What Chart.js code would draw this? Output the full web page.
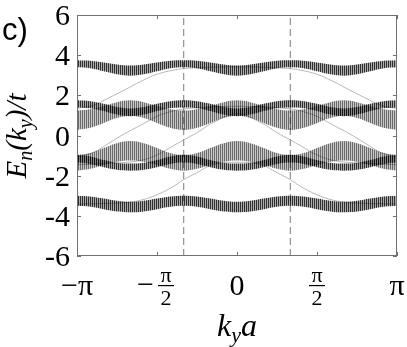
<!DOCTYPE html>
<html>
<head>
<meta charset="utf-8">
<script src="https://cdn.jsdelivr.net/npm/chart.js@4.4.1/dist/chart.umd.min.js"></script>
<style>
  body { margin: 0; background: #fff; }
  canvas { display: block; }
</style>
</head>
<body>
<canvas id="chart" width="407" height="347"></canvas>
<script>
// k_y a in units of pi, sampled every pi/12
const KY = [-1, -0.917, -0.833, -0.75, -0.667, -0.583, -0.5, -0.417, -0.333, -0.25, -0.167, -0.083, 0,
            0.083, 0.167, 0.25, 0.333, 0.417, 0.5, 0.583, 0.667, 0.75, 0.833, 0.917, 1];

// band edges E/t
const topUpper = [3.75, 3.72, 3.63, 3.53, 3.48, 3.53, 3.63, 3.72, 3.75, 3.72, 3.63, 3.53, 3.48, 3.53, 3.63, 3.72, 3.75, 3.72, 3.63, 3.53, 3.48, 3.53, 3.63, 3.72, 3.75];
const topLower = [3.40, 3.35, 3.20, 3.05, 2.98, 3.05, 3.20, 3.35, 3.40, 3.35, 3.20, 3.05, 2.98, 3.05, 3.20, 3.35, 3.40, 3.35, 3.20, 3.05, 2.98, 3.05, 3.20, 3.35, 3.40];
const aPlusUpper = [1.75, 1.71, 1.58, 1.42, 1.35, 1.42, 1.58, 1.71, 1.75, 1.71, 1.58, 1.42, 1.35, 1.42, 1.58, 1.71, 1.75, 1.71, 1.58, 1.42, 1.35, 1.42, 1.58, 1.71, 1.75];
const aPlusLower = [1.40, 1.36, 1.22, 1.04, 0.96, 1.04, 1.22, 1.36, 1.40, 1.36, 1.22, 1.04, 0.96, 1.04, 1.22, 1.36, 1.40, 1.36, 1.22, 1.04, 0.96, 1.04, 1.22, 1.36, 1.40];
const bPlusUpper = [1.25, 1.31, 1.47, 1.66, 1.75, 1.66, 1.47, 1.31, 1.25, 1.31, 1.47, 1.66, 1.75, 1.66, 1.47, 1.31, 1.25, 1.31, 1.47, 1.66, 1.75, 1.66, 1.47, 1.31, 1.25];
const bPlusLower = [0.28, 0.38, 0.62, 0.87, 0.97, 0.87, 0.62, 0.38, 0.28, 0.38, 0.62, 0.87, 0.97, 0.87, 0.62, 0.38, 0.28, 0.38, 0.62, 0.87, 0.97, 0.87, 0.62, 0.38, 0.28];
const bMinusUpper = [-0.97, -0.87, -0.62, -0.38, -0.28, -0.38, -0.62, -0.87, -0.97, -0.87, -0.62, -0.38, -0.28, -0.38, -0.62, -0.87, -0.97, -0.87, -0.62, -0.38, -0.28, -0.38, -0.62, -0.87, -0.97];
const bMinusLower = [-1.75, -1.66, -1.47, -1.31, -1.25, -1.31, -1.47, -1.66, -1.75, -1.66, -1.47, -1.31, -1.25, -1.31, -1.47, -1.66, -1.75, -1.66, -1.47, -1.31, -1.25, -1.31, -1.47, -1.66, -1.75];
const aMinusUpper = [-0.96, -1.04, -1.22, -1.36, -1.40, -1.36, -1.22, -1.04, -0.96, -1.04, -1.22, -1.36, -1.40, -1.36, -1.22, -1.04, -0.96, -1.04, -1.22, -1.36, -1.40, -1.36, -1.22, -1.04, -0.96];
const aMinusLower = [-1.35, -1.42, -1.58, -1.71, -1.75, -1.71, -1.58, -1.42, -1.35, -1.42, -1.58, -1.71, -1.75, -1.71, -1.58, -1.42, -1.35, -1.42, -1.58, -1.71, -1.75, -1.71, -1.58, -1.42, -1.35];
const botUpper = [-3.00, -3.04, -3.14, -3.25, -3.30, -3.25, -3.14, -3.04, -3.00, -3.04, -3.14, -3.25, -3.30, -3.25, -3.14, -3.04, -3.00, -3.04, -3.14, -3.25, -3.30, -3.25, -3.14, -3.04, -3.00];
const botLower = [-3.50, -3.55, -3.67, -3.78, -3.82, -3.78, -3.67, -3.55, -3.50, -3.55, -3.67, -3.78, -3.82, -3.78, -3.67, -3.55, -3.50, -3.55, -3.67, -3.78, -3.82, -3.78, -3.67, -3.55, -3.50];

// edge states (thin lines)
const EDGE_KY = [-1, -0.9, -0.8, -0.7, -0.6, -0.5, -0.4, -0.333, -0.25, -0.15, 0, 0.15, 0.25, 0.333, 0.4, 0.5, 0.6, 0.7, 0.8, 0.9, 1];
const edgeUpper = [1.35, 1.50, 1.88, 2.28, 2.70, 3.05, 3.25, 3.33, 3.37, 3.40, 3.42, 3.40, 3.37, 3.33, 3.25, 3.05, 2.70, 2.28, 1.88, 1.50, 1.35];
const edgeMid1 = [-1.08, -0.85, -0.38, 0.10, 0.52, 0.95, 1.22, 1.32, 1.38, 1.43, 1.45, 1.43, 1.38, 1.32, 1.22, 0.95, 0.52, 0.10, -0.38, -0.85, -1.08];
const edgeMid2 = [-1.45, -1.43, -1.38, -1.34, -1.24, -0.97, -0.52, -0.22, 0.14, 0.64, 1.08, 0.64, 0.14, -0.22, -0.52, -0.97, -1.24, -1.34, -1.38, -1.43, -1.45];
const edgeLower = [-3.42, -3.40, -3.38, -3.34, -3.22, -2.95, -2.55, -2.20, -1.85, -1.45, -1.33, -1.45, -1.85, -2.20, -2.55, -2.95, -3.22, -3.34, -3.38, -3.40, -3.42];

// dashed markers at +-pi/3
const DASH_KY = [-0.333, 0.333];
const Y_RANGE = [-6, 6];

const Y_TICKS = [6, 4, 2, 0, -2, -4, -6];
const X_TICKS = [-1, -0.5, 0, 0.5, 1];

function stripes(dark, light) {
    const c = document.createElement('canvas');
    c.width = 2; c.height = 1;
    const g = c.getContext('2d');
    g.fillStyle = dark; g.fillRect(0, 0, 1, 1);
    g.fillStyle = light; g.fillRect(1, 0, 1, 1);
    return g.createPattern(c, 'repeat');
}

const ctx = document.getElementById('chart').getContext('2d');
const darkHatch = stripes('rgba(0,0,0,0.82)', 'rgba(0,0,0,0.32)');
const lightHatch = stripes('rgba(0,0,0,0.58)', 'rgba(0,0,0,0.22)');

const pts = (xs, ys) => xs.map((x, i) => ({ x: x, y: ys[i] }));

const datasets = [];
function addBand(upper, lower, hatch) {
    const lowIdx = datasets.length + 1;
    datasets.push({
        data: pts(KY, upper), borderColor: 'rgba(0,0,0,0)', borderWidth: 1,
        backgroundColor: hatch, fill: lowIdx, pointRadius: 0, tension: 0.4, order: 0
    });
    datasets.push({
        data: pts(KY, lower), borderColor: 'rgba(0,0,0,0)', borderWidth: 1,
        fill: false, pointRadius: 0, tension: 0.4, order: 0
    });
}
addBand(topUpper, topLower, darkHatch);
addBand(bPlusUpper, bPlusLower, lightHatch);
addBand(aPlusUpper, aPlusLower, darkHatch);
addBand(bMinusUpper, bMinusLower, lightHatch);
addBand(aMinusUpper, aMinusLower, darkHatch);
addBand(botUpper, botLower, darkHatch);

[edgeUpper, edgeMid1, edgeMid2, edgeLower].forEach(e => {
    datasets.push({
        data: pts(EDGE_KY, e), borderColor: '#9a9a9a', borderWidth: 0.7,
        fill: false, pointRadius: 0, tension: 0.4, order: 1
    });
});
DASH_KY.forEach(k => {
    datasets.push({
        data: [{ x: k, y: Y_RANGE[0] }, { x: k, y: Y_RANGE[1] }], borderColor: '#7a7a7a',
        borderWidth: 1, borderDash: [7, 4], fill: false, pointRadius: 0, order: 2
    });
});

// ticks inside the frame, serif labels, fractions and titles
const decor = {
    id: 'decor',
    afterDraw(chart) {
        const { ctx, chartArea: a, scales: { x, y } } = chart;
        ctx.save();
        ctx.strokeStyle = '#707070';
        ctx.lineWidth = 1;
        ctx.strokeRect(a.left + 0.5, a.top + 0.5, a.right - a.left - 1, a.bottom - a.top - 1);
        ctx.beginPath();
        Y_TICKS.forEach(v => {
            const py = Math.round(y.getPixelForValue(v)) + 0.5;
            ctx.moveTo(a.left, py); ctx.lineTo(a.left + 4, py);
            ctx.moveTo(a.right, py); ctx.lineTo(a.right - 4, py);
        });
        X_TICKS.forEach(v => {
            const px = Math.round(x.getPixelForValue(v)) + 0.5;
            ctx.moveTo(px, a.top); ctx.lineTo(px, a.top + 4);
            ctx.moveTo(px, a.bottom); ctx.lineTo(px, a.bottom - 4);
        });
        ctx.stroke();

        ctx.fillStyle = '#000';
        ctx.font = '30px "Liberation Serif"';
        ctx.textAlign = 'right';
        ctx.textBaseline = 'alphabetic';
        Y_TICKS.forEach(v => {
            ctx.fillText(String(v), a.left - 7, y.getPixelForValue(v) + 10);
        });

        ctx.textAlign = 'center';
        const base = 295;
        X_TICKS.forEach(v => {
            const px = x.getPixelForValue(v);
            if (v === 0) ctx.fillText('0', px, base);
            else if (v === -1) ctx.fillText('\u2212\u03c0', px, base);
            else if (v === 1) ctx.fillText('\u03c0', px, base);
            else {
                const fx = v < 0 ? px + 9 : px;
                if (v < 0) {
                    ctx.font = '30px "Liberation Serif"';
                    ctx.textAlign = 'right';
                    ctx.fillText('\u2212', px - 3, base - 1);
                }
                ctx.textAlign = 'center';
                ctx.font = '22px "Liberation Serif"';
                ctx.fillText('\u03c0', fx, 282);
                ctx.fillText('2', fx, 305);
                ctx.fillRect(fx - 8, 285, 16, 1.2);
                ctx.font = '30px "Liberation Serif"';
            }
        });

        // x title: k_y a
        ctx.textAlign = 'left';
        let mainF = 'italic 32px "Liberation Serif"';
        let subF = 'italic 22px "Liberation Serif"';
        const xParts = [['k', mainF, 0], ['y', subF, 6], ['a', mainF, 0]];
        let tw = 0;
        xParts.forEach(p => { ctx.font = p[1]; tw += ctx.measureText(p[0]).width; });
        let cx = (a.left + a.right) / 2 - tw / 2;
        xParts.forEach(p => {
            ctx.font = p[1];
            ctx.fillText(p[0], cx, 336 + p[2]);
            cx += ctx.measureText(p[0]).width;
        });

        // y title: E_n(k_y)/t rotated
        mainF = 'italic 29px "Liberation Serif"';
        subF = 'italic 20px "Liberation Serif"';
        const yParts = [['E', mainF, 0], ['n', subF, 6], ['(', mainF, 0], ['k', mainF, 0],
                        ['y', subF, 6], [')', mainF, 0], ['/', mainF, 0], ['t', mainF, 0]];
        tw = 0;
        yParts.forEach(p => { ctx.font = p[1]; tw += ctx.measureText(p[0]).width; });
        ctx.translate(26, 136);
        ctx.rotate(-Math.PI / 2);
        cx = -tw / 2;
        yParts.forEach(p => {
            ctx.font = p[1];
            ctx.fillText(p[0], cx, p[2]);
            cx += ctx.measureText(p[0]).width;
        });
        ctx.restore();

        ctx.save();
        ctx.fillStyle = '#000';
        ctx.font = '31px "Liberation Sans"';
        ctx.textAlign = 'left';
        ctx.fillText('c)', 2, 40);
        ctx.restore();
    }
};

new Chart(ctx, {
    type: 'line',
    data: { datasets: datasets },
    options: {
        responsive: false,
        devicePixelRatio: 1,
        animation: false,
        layout: { padding: { left: 77, top: 15, right: 10, bottom: 91 } },
        plugins: { legend: { display: false }, tooltip: { enabled: false } },
        scales: {
            x: { type: 'linear', min: -1, max: 1, display: false },
            y: { type: 'linear', min: -6, max: 6, display: false }
        }
    },
    plugins: [decor]
});
</script>
</body>
</html>
